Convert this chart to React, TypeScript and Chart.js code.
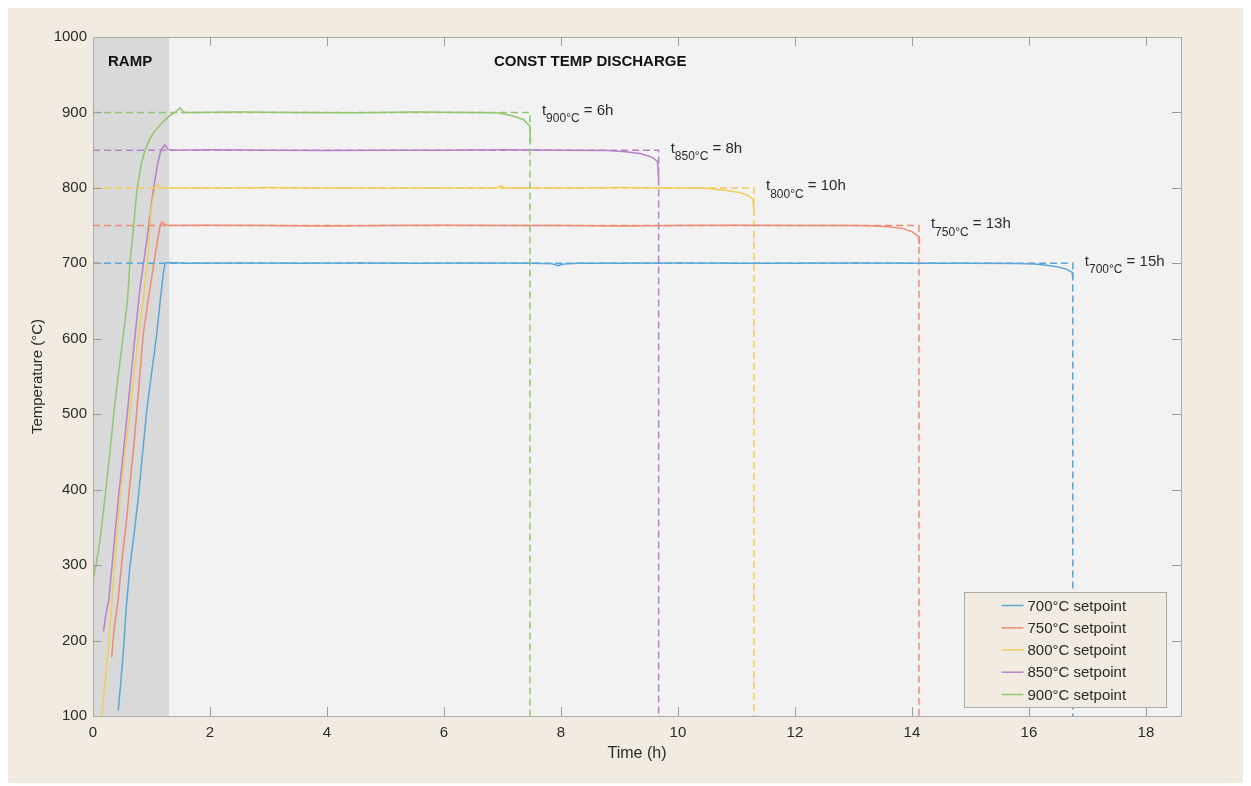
import React, { useEffect, useRef } from "react";
import { Chart, registerables } from "chart.js";

Chart.register(...registerables);

// ---------- data ----------
const SETPOINTS = [700, 750, 800, 850, 900];
const SERIES_LABELS = ["700°C setpoint", "750°C setpoint", "800°C setpoint", "850°C setpoint", "900°C setpoint"];
const END_TIMES = [16.75, 14.12, 11.3, 9.67, 7.47];
const DURATION_LABELS = ["15h", "13h", "10h", "8h", "6h"];
const SUB_LABELS = ["700°C", "750°C", "800°C", "850°C", "900°C"];
const X_TICKS = [0, 2, 4, 6, 8, 10, 12, 14, 16, 18];
const Y_TICKS = [100, 200, 300, 400, 500, 600, 700, 800, 900, 1000];
const RAMP_END = 1.3;
const X_MAX = 18.6;
const Y_MIN = 100;
const Y_MAX = 1000;
const PHASE_LABELS = ["RAMP", "CONST TEMP DISCHARGE"];

const T700_TIME = [0.43, 0.47, 0.52, 0.57, 0.63, 0.7, 0.77, 0.92, 1.02, 1.09, 1.15, 1.2, 1.23, 1.28, 1.6, 2.5, 3.5, 4.5, 5.5, 6.5, 7.5, 7.85, 7.95, 8.05, 8.3, 9, 10, 11, 12, 13, 14, 15, 15.8, 16.1, 16.3, 16.5, 16.65, 16.74, 16.75];
const T700_TEMP = [107, 140, 187, 245, 298, 340, 386, 506, 565, 607, 651, 685, 700, 701, 700, 700.5, 700, 700.5, 700, 700.5, 700, 699.5, 697, 699, 700, 700, 700.5, 700, 700, 700.5, 700, 700, 699.8, 699, 697.5, 695, 692, 688, 680];

const T750_TIME = [0.32, 0.36, 0.43, 0.5, 0.58, 0.62, 0.7, 0.76, 0.86, 0.97, 1.06, 1.12, 1.15, 1.18, 1.22, 1.3, 2, 3, 4, 5, 6, 7, 8, 9, 10, 11, 12, 13, 13.3, 13.6, 13.85, 14.0, 14.12, 14.13];
const T750_TEMP = [178, 215, 254, 310, 364, 400, 460, 515, 607, 665, 710, 738, 750, 755, 752, 750, 750.5, 750, 749.5, 750, 750.5, 750, 750, 749.5, 750, 750.5, 750, 750, 749.8, 748.5, 746, 742, 735, 725];

const T800_TIME = [0.15, 0.2, 0.26, 0.36, 0.46, 0.55, 0.645, 0.74, 0.88, 0.95, 0.99, 1.06, 1.1, 1.14, 1.3, 2, 3, 4, 5, 6, 6.9, 6.97, 7.03, 8, 9, 10, 10.5, 10.8, 11.05, 11.2, 11.28, 11.3];
const T800_TEMP = [100, 140, 187, 290, 386, 450, 512, 580, 665, 720, 770, 800, 805, 800, 799.5, 800, 800.5, 800, 799.5, 800, 800, 803, 800, 800, 800.5, 800, 799.5, 797, 794, 790, 785, 770];

const T850_TIME = [0.18, 0.22, 0.27, 0.35, 0.43, 0.52, 0.6, 0.7, 0.8, 0.92, 1.03, 1.1, 1.16, 1.23, 1.28, 1.4, 2, 3, 4, 5, 6, 7, 8, 8.8, 9.1, 9.35, 9.55, 9.65, 9.67];
const T850_TEMP = [212, 235, 254, 320, 386, 450, 512, 590, 665, 731, 797, 830, 850, 857, 851, 850, 850.5, 850, 849.5, 850, 850, 850.5, 850, 849.5, 848, 845.5, 841, 835, 812];

const T900_TIME = [0, 0.05, 0.12, 0.2, 0.29, 0.37, 0.47, 0.59, 0.63, 0.7, 0.75, 0.82, 0.89, 0.96, 1.03, 1.2, 1.32, 1.4, 1.49, 1.55, 1.7, 2.5, 3.5, 4.5, 5.5, 6.5, 6.9, 7.15, 7.35, 7.47, 7.48];
const T900_TEMP = [280, 300, 333, 386, 450, 512, 575, 651, 700, 753, 797, 830, 850, 863, 873, 888, 896, 900, 906, 900, 900, 900.5, 900, 899.5, 900.5, 900, 899.5, 896, 891, 882, 860];

const TIMES = [T700_TIME, T750_TIME, T800_TIME, T850_TIME, T900_TIME];
const TEMPS = [T700_TEMP, T750_TEMP, T800_TEMP, T850_TEMP, T900_TEMP];

// ---------- styles ----------
const COLORS = ["#5aa6d8", "#f08a76", "#f0cd5c", "#b681c9", "#92c56f"];
const FONT = "'Liberation Sans', Arial, Helvetica, sans-serif";
const TEXT = "#2b2b2b";

const toPoints = (xs: number[], ys: number[]) => xs.map((x, i) => ({ x, y: ys[i] }));

const decorPlugin = {
  id: "decor",
  beforeDraw(chart: any) {
    const { ctx, chartArea: a, scales } = chart;
    ctx.save();
    ctx.fillStyle = "#f2f2f2";
    ctx.fillRect(a.left, a.top, a.right - a.left, a.bottom - a.top);
    const xr = scales.x.getPixelForValue(RAMP_END);
    ctx.fillStyle = "#d9d9d9";
    ctx.fillRect(a.left, a.top, xr - a.left, a.bottom - a.top);
    ctx.restore();
  },
  afterDatasetsDraw(chart: any) {
    const { ctx, chartArea: a, scales } = chart;
    const xs = scales.x;
    const ys = scales.y;
    ctx.save();
    // box
    ctx.strokeStyle = "#a9a9a9";
    ctx.lineWidth = 1;
    ctx.strokeRect(Math.round(a.left) + 0.5, Math.round(a.top) + 0.5, Math.round(a.right - a.left), Math.round(a.bottom - a.top));
    // inward ticks
    ctx.strokeStyle = "#9c9c9c";
    const TL = 9;
    ctx.beginPath();
    X_TICKS.forEach((v) => {
      const px = Math.round(xs.getPixelForValue(v)) + 0.5;
      if (v === 0) return;
      ctx.moveTo(px, a.bottom);
      ctx.lineTo(px, a.bottom - TL);
      ctx.moveTo(px, a.top);
      ctx.lineTo(px, a.top + TL);
    });
    Y_TICKS.forEach((v) => {
      if (v === Y_MIN || v === Y_MAX) return;
      const py = Math.round(ys.getPixelForValue(v)) + 0.5;
      ctx.moveTo(a.left, py);
      ctx.lineTo(a.left + TL, py);
      ctx.moveTo(a.right, py);
      ctx.lineTo(a.right - TL, py);
    });
    ctx.stroke();

    // phase labels
    ctx.fillStyle = "#111";
    ctx.font = `bold 15px ${FONT}`;
    ctx.textBaseline = "alphabetic";
    ctx.textAlign = "left";
    ctx.fillText(PHASE_LABELS[0], a.left + 15, a.top + 29);
    ctx.textAlign = "center";
    ctx.fillText(PHASE_LABELS[1], xs.getPixelForValue(8.5), a.top + 29);

    // duration annotations
    ctx.fillStyle = TEXT;
    ctx.textAlign = "left";
    SETPOINTS.forEach((sp, i) => {
      let x = xs.getPixelForValue(END_TIMES[i]) + 12;
      const y = ys.getPixelForValue(sp);
      ctx.font = `15px ${FONT}`;
      ctx.fillText("t", x, y + 2.5);
      x += ctx.measureText("t").width;
      ctx.font = `12px ${FONT}`;
      ctx.fillText(SUB_LABELS[i], x, y + 10);
      x += ctx.measureText(SUB_LABELS[i]).width;
      ctx.font = `15px ${FONT}`;
      ctx.fillText(" = " + DURATION_LABELS[i], x, y + 2.5);
    });

    // legend
    const bw = 202;
    const bh = 115;
    const bx = Math.round(a.right - 15 - bw) + 0.5;
    const by = Math.round(a.bottom - 9 - bh) + 0.5;
    ctx.fillStyle = "#f1ebe1";
    ctx.fillRect(bx, by, bw, bh);
    ctx.strokeStyle = "#a9a9a9";
    ctx.lineWidth = 1;
    ctx.strokeRect(bx, by, bw, bh);
    const rows = [13, 35.3, 57.3, 79.7, 102];
    ctx.font = `15px ${FONT}`;
    ctx.textBaseline = "middle";
    SERIES_LABELS.forEach((lab, i) => {
      const ry = by + rows[i];
      ctx.strokeStyle = COLORS[i];
      ctx.lineWidth = 1.5;
      ctx.beginPath();
      ctx.moveTo(bx + 37, ry);
      ctx.lineTo(bx + 59, ry);
      ctx.stroke();
      ctx.fillStyle = TEXT;
      ctx.fillText(lab, bx + 63, ry + 1);
    });
    ctx.restore();
  },
};

export default function App() {
  const ref = useRef<HTMLCanvasElement | null>(null);

  useEffect(() => {
    if (!ref.current) return;
    const solid = SETPOINTS.map((sp, i) => ({
      label: SERIES_LABELS[i],
      data: toPoints(TIMES[i], TEMPS[i]),
      borderColor: COLORS[i],
      backgroundColor: COLORS[i],
      borderWidth: 1.5,
      pointRadius: 0,
      tension: 0,
      fill: false,
      order: 1,
    }));
    const dashed = SETPOINTS.map((sp, i) => ({
      label: "setpoint-" + sp,
      data: [
        { x: 0, y: sp },
        { x: END_TIMES[i], y: sp },
        { x: END_TIMES[i], y: Y_MIN },
      ],
      borderColor: COLORS[i],
      borderWidth: 1.5,
      borderDash: [7, 4],
      pointRadius: 0,
      tension: 0,
      fill: false,
      order: 0,
    }));

    const chart = new Chart(ref.current, {
      type: "line",
      data: { datasets: [...solid, ...dashed] as any },
      options: {
        animation: false,
        responsive: false,
        layout: { padding: { left: 0, top: 29, right: 66, bottom: 0 } },
        plugins: {
          legend: { display: false },
          tooltip: { enabled: false },
        },
        scales: {
          x: {
            type: "linear",
            min: 0,
            max: X_MAX,
            afterBuildTicks: (s: any) => {
              s.ticks = X_TICKS.map((v) => ({ value: v }));
            },
            afterFit: (s: any) => {
              s.height = 67;
            },
            grid: { display: false, drawTicks: false },
            border: { display: false },
            ticks: {
              padding: 8,
              color: TEXT,
              font: { family: FONT, size: 15 },
              maxRotation: 0,
              callback: (v: any) => String(v),
            },
            title: {
              display: true,
              text: "Time (h)",
              color: TEXT,
              font: { family: FONT, size: 16 },
              padding: { top: 0, bottom: 20 },
            },
          },
          y: {
            type: "linear",
            min: Y_MIN,
            max: Y_MAX,
            afterBuildTicks: (s: any) => {
              s.ticks = Y_TICKS.map((v) => ({ value: v }));
            },
            afterFit: (s: any) => {
              s.width = 85;
            },
            grid: { display: false, drawTicks: false },
            border: { display: false },
            ticks: {
              padding: 6,
              color: TEXT,
              font: { family: FONT, size: 15 },
              callback: (v: any) => String(v),
            },
            title: {
              display: true,
              text: "Temperature (°C)",
              color: TEXT,
              font: { family: FONT, size: 15 },
              padding: { top: 21, bottom: 0 },
            },
          },
        },
      },
      plugins: [decorPlugin],
    });
    return () => chart.destroy();
  }, []);

  return (
    <div style={{ width: 1239, height: 775, background: "#f1ebe1" }}>
      <canvas ref={ref} width={1239} height={775} style={{ display: "block" }} />
    </div>
  );
}
